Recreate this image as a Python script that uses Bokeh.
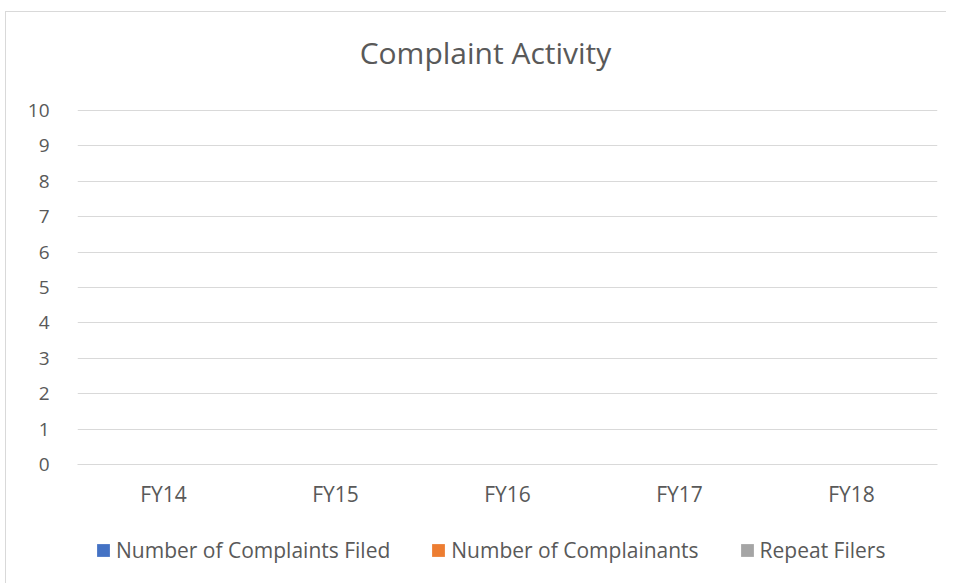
from bokeh.plotting import figure
from bokeh.models import Range1d, Legend, LegendItem, FactorRange, Label
from bokeh.layouts import column
from bokeh.transform import dodge
from bokeh.embed import file_html
from bokeh.resources import INLINE

# ---- data ----
years = ["FY14", "FY15", "FY16", "FY17", "FY18"]
complaints_filed = [0, 0, 0, 0, 0]
complainants = [0, 0, 0, 0, 0]
repeat_filers = [0, 0, 0, 0, 0]
series_names = ["Number of Complaints Filed", "Number of Complainants", "Repeat Filers"]
series_colors = ["#4472C4", "#ED7D31", "#A5A5A5"]
y_ticks = list(range(0, 11))
title_text = "Complaint Activity"

FONT = "Open Sans"
TXT = "#595959"
GRID = "#D9D9D9"
W = 940
FW = 860


def blank_fig(h, x_range):
    f = figure(width=W, height=h, x_range=x_range, y_range=Range1d(0, h),
               x_axis_type=None, y_axis_type=None, title=None,
               output_backend="svg", toolbar_location=None,
               min_border_left=0, min_border_right=0, min_border_top=0, min_border_bottom=0)
    f.outline_line_color = None
    f.background_fill_color = "white"
    f.border_fill_color = "white"
    f.grid.visible = False
    return f


# ---- title strip ----
head = blank_fig(82, Range1d(0, FW))
head.add_layout(Label(x=408, y=42, text=title_text, text_align="center",
                      text_baseline="middle", text_font=FONT,
                      text_font_size="30px", text_color=TXT))

# ---- main chart ----
p = figure(x_range=FactorRange(*years), y_range=Range1d(0, 10.03), title=None,
           frame_width=FW, frame_height=355, output_backend="svg", toolbar_location=None,
           min_border_left=71, min_border_right=9, min_border_top=15, min_border_bottom=40)
p.outline_line_color = None
p.background_fill_color = "white"
p.border_fill_color = "white"

data = dict(x=years, a=complaints_filed, b=complainants, c=repeat_filers)
for col, off, color in zip(["a", "b", "c"], [-0.22, 0.0, 0.22], series_colors):
    p.vbar(x=dodge("x", off, range=p.x_range), top=col, width=0.2, source=data,
           fill_color=color, line_color=None)

p.yaxis.ticker = y_ticks
p.yaxis.axis_line_color = None
p.yaxis.major_tick_line_color = None
p.yaxis.minor_tick_line_color = None
p.yaxis.major_label_standoff = 22
p.yaxis.major_label_text_font = FONT
p.yaxis.major_label_text_font_size = "19px"
p.yaxis.major_label_text_color = TXT

p.xaxis.axis_line_color = GRID
p.xaxis.major_tick_line_color = None
p.xaxis.minor_tick_line_color = None
p.xaxis.major_label_standoff = 9
p.xaxis.major_label_text_font = FONT
p.xaxis.major_label_text_font_size = "21px"
p.xaxis.major_label_text_color = TXT

p.xgrid.grid_line_color = None
p.ygrid.grid_line_color = GRID
p.ygrid.grid_line_width = 1

# ---- legend strip ----
leg = blank_fig(76, FactorRange(*years))
leg_renderers = []
for col, color in zip(["a", "b", "c"], series_colors):
    leg_renderers.append(leg.vbar(x="x", top=col, width=0.2, source=data,
                                  fill_color=color, line_color=None))
legend = Legend(items=[LegendItem(label=n, renderers=[r]) for n, r in zip(series_names, leg_renderers)],
                orientation="horizontal", location=(18, 21),
                glyph_width=16, glyph_height=16, label_standoff=5, spacing=40,
                label_height=30,
                padding=0, margin=0, border_line_color=None, background_fill_alpha=0,
                label_text_font=FONT, label_text_font_size="21px", label_text_color=TXT)
leg.add_layout(legend, "center")

layout = column(head, p, leg, spacing=0)
layout.styles = {"margin-top": "11px", "margin-left": "5px",
                 "border-top": "1px solid #D9D9D9", "border-left": "1px solid #D9D9D9"}

open("out.html", "w").write(file_html(layout, INLINE))
